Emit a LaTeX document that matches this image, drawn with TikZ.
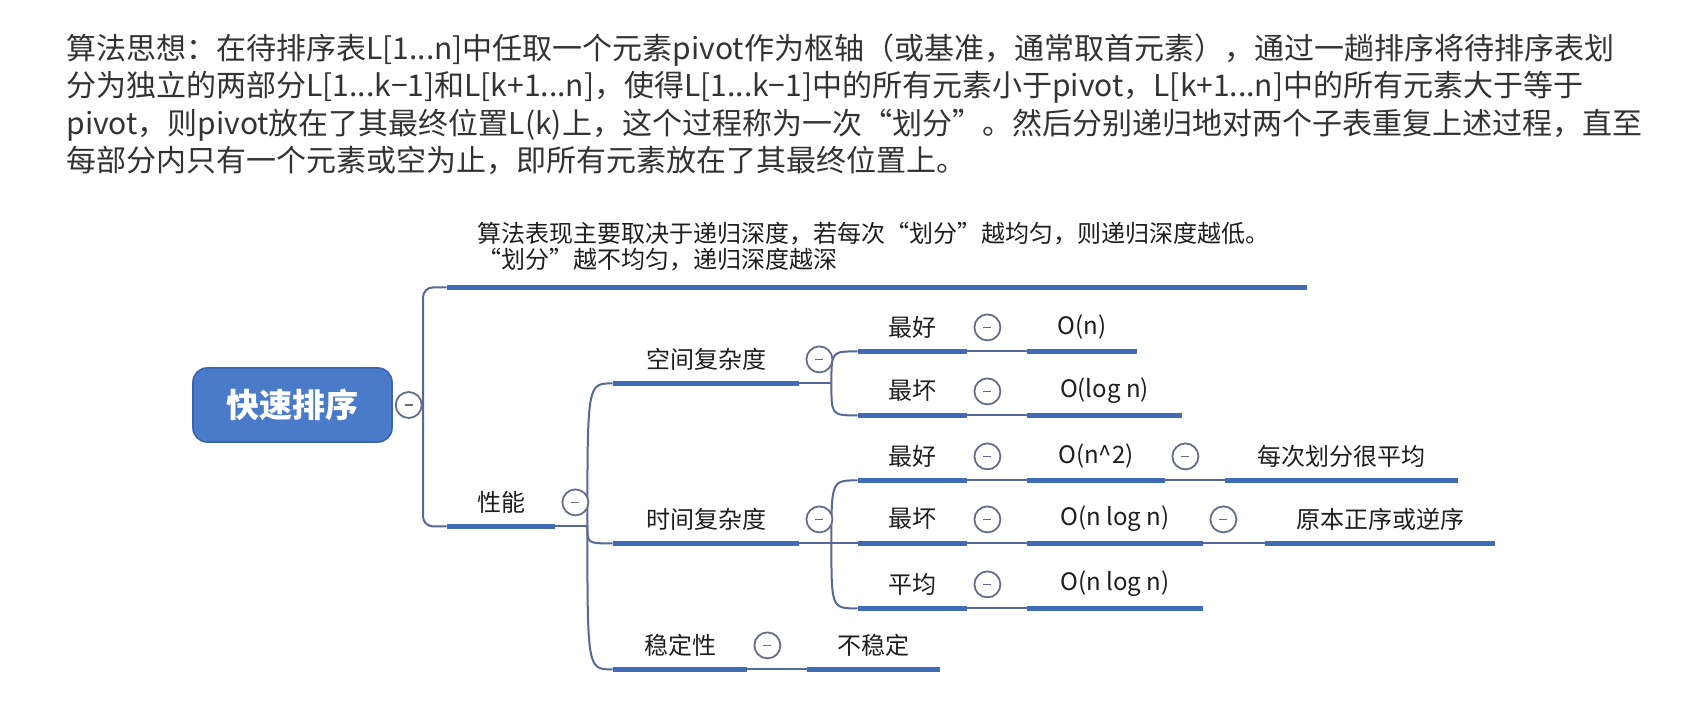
\documentclass[tikz,border=0pt]{standalone}
\usepackage{fontspec}
\setmainfont{Noto Sans CJK SC}
\usetikzlibrary{positioning, calc}

\definecolor{barblue}{HTML}{3F6CB4}
\definecolor{linkblue}{HTML}{56679A}
\definecolor{rootblue}{HTML}{4A7BC9}
\definecolor{rootedge}{HTML}{3B66AE}
\definecolor{foldgray}{HTML}{656D8C}
\definecolor{inktext}{HTML}{1E1E1E}
\definecolor{paratext}{HTML}{333333}

\begin{document}
\begin{tikzpicture}[
      x=0.5pt, y=-0.5pt,
      font=\fontsize{12}{14}\selectfont,
      text=inktext,
      para/.style={
        align=left,
        inner sep=0pt,
        text=paratext,
        font=\fontsize{15}{18.8}\selectfont
      },
      notetext/.style={
        align=left,
        inner sep=0pt,
        font=\fontsize{12}{13}\selectfont
      },
      root/.style={
        draw=rootedge,
        fill=rootblue,
        rounded corners=7pt,
        minimum width=99.5pt,
        minimum height=37pt,
        text=white,
        font=\fontsize{16.5}{18}\selectfont\bfseries,
        line width=0.8pt
      },
      topic/.style={
        inner sep=0pt,
        minimum height=24pt
      },
      fold/.style={
        circle,
        draw=foldgray,
        fill=white,
        line width=0.9pt,
        minimum size=13pt,
        inner sep=0pt,
        path picture={\draw[foldgray, line width=0.8pt]
          ($(path picture bounding box.center)+(-4,0)$) -- ($(path picture bounding box.center)+(4,0)$);}
      },
      bar/.style={draw=barblue, line width=2.8pt},
      link/.style={draw=linkblue, line width=1pt}
    ]
    \useasboundingbox (0,0) rectangle (1681,726);

    % Description text
    \node[para, anchor=north west] (idea) at (66,33) {算法思想：在待排序表L[1...n]中任取一个元素pivot作为枢轴（或基准，通常取首元素），通过一趟排序将待排序表划\\分为独立的两部分L[1...k−1]和L[k+1...n]，使得L[1...k−1]中的所有元素小于pivot，L[k+1...n]中的所有元素大于等于\\pivot，则pivot放在了其最终位置L(k)上，这个过程称为一次“划分”。然后分别递归地对两个子表重复上述过程，直至\\每部分内只有一个元素或空为止，即所有元素放在了其最终位置上。};

    % Root and first level
    \node[root] (quick) at (292.5,405) {快速排序};
    \node[fold, right=1pt of quick] (fquick) {};
    \coordinate (trunk) at (423,405);
    \node[topic, minimum width=430pt] (note) at (877,263) {};
    \node[notetext, anchor=north west] (notetxt) at (477,222) {算法表现主要取决于递归深度，若每次“划分”越均匀，则递归深度越低。\\“划分”越不均匀，递归深度越深};
    \node[topic, minimum width=54pt] (perf) at (501,502) {性能};

    % Second level
    \node[topic, minimum width=93pt] (space) at (706,359) {空间复杂度};
    \node[topic, minimum width=93pt] (time) at (706,519) {时间复杂度};
    \node[topic, minimum width=67pt] (stab) at (680,645) {稳定性};
    \node[topic, minimum width=66.5pt] (unstab) at (873.5,645) {不稳定};

    % Space complexity
    \node[topic, minimum width=54.5pt] (sbest) at (912.5,327) {最好};
    \node[topic, minimum width=55pt] (sbestv) at (1082,327) {O(n)};
    \node[topic, minimum width=54.5pt] (sworst) at (912.5,391) {最坏};
    \node[topic, minimum width=77.5pt] (sworstv) at (1104.5,391) {O(log n)};

    % Time complexity
    \node[topic, minimum width=54.5pt] (tbest) at (912.5,456) {最好};
    \node[topic, minimum width=69pt] (tbestv) at (1096,456) {O(n\^{}2)};
    \node[topic, minimum width=116.5pt] (tbestc) at (1341.5,456) {每次划分很平均};
    \node[topic, minimum width=54.5pt] (tworst) at (912.5,519) {最坏};
    \node[topic, minimum width=88pt] (tworstv) at (1115,519) {O(n log n)};
    \node[topic, minimum width=115pt] (tworstc) at (1380,519) {原本正序或逆序};
    \node[topic, minimum width=54.5pt] (tavg) at (912.5,584) {平均};
    \node[topic, minimum width=88pt] (tavgv) at (1115,584) {O(n log n)};

    % Junctions
    \coordinate (jperf) at ($(perf.south east)+(32,0)$);
    \coordinate (jspace) at ($(space.south east)+(32,0)$);
    \coordinate (jtime) at ($(time.south east)+(32,0)$);

    % Connectors
    \draw[link] (fquick) -- (trunk);
    \draw[link, rounded corners=5pt] (trunk) |- (note.south west);
    \draw[link, rounded corners=5pt] (trunk) |- (perf.south west);
    \draw[link] (perf.south east) -- (jperf);
    \foreach \n in {space, time, stab}
      \draw[link] (jperf) .. controls (jperf |- \n.south west) .. (\n.south west);
    \draw[link] (space.south east) -- (jspace);
    \foreach \n in {sbest, sworst}
      \draw[link] (jspace) .. controls (jspace |- \n.south west) .. (\n.south west);
    \draw[link] (time.south east) -- (jtime);
    \foreach \n in {tbest, tworst, tavg}
      \draw[link] (jtime) .. controls (jtime |- \n.south west) .. (\n.south west);
    \draw[link] (stab.south east) -- (unstab.south west);
    \draw[link] (sbest.south east) -- (sbestv.south west);
    \draw[link] (sworst.south east) -- (sworstv.south west);
    \draw[link] (tbest.south east) -- (tbestv.south west);
    \draw[link] (tbestv.south east) -- (tbestc.south west);
    \draw[link] (tworst.south east) -- (tworstv.south west);
    \draw[link] (tworstv.south east) -- (tworstc.south west);
    \draw[link] (tavg.south east) -- (tavgv.south west);

    % Underlines
    \foreach \n in {note, perf, space, time, stab, unstab, sbest, sbestv, sworst, sworstv,
                    tbest, tbestv, tbestc, tworst, tworstv, tworstc, tavg, tavgv}
      \draw[bar] (\n.south west) -- (\n.south east);

    % Fold markers
    \foreach \n in {perf, space, time, stab, sbest, sworst, tbest, tbestv, tworst, tworstv, tavg}
      \node[fold] (f\n) at ($(\n.south east)+(20,-24)$) {};

  \end{tikzpicture}
\end{document}
